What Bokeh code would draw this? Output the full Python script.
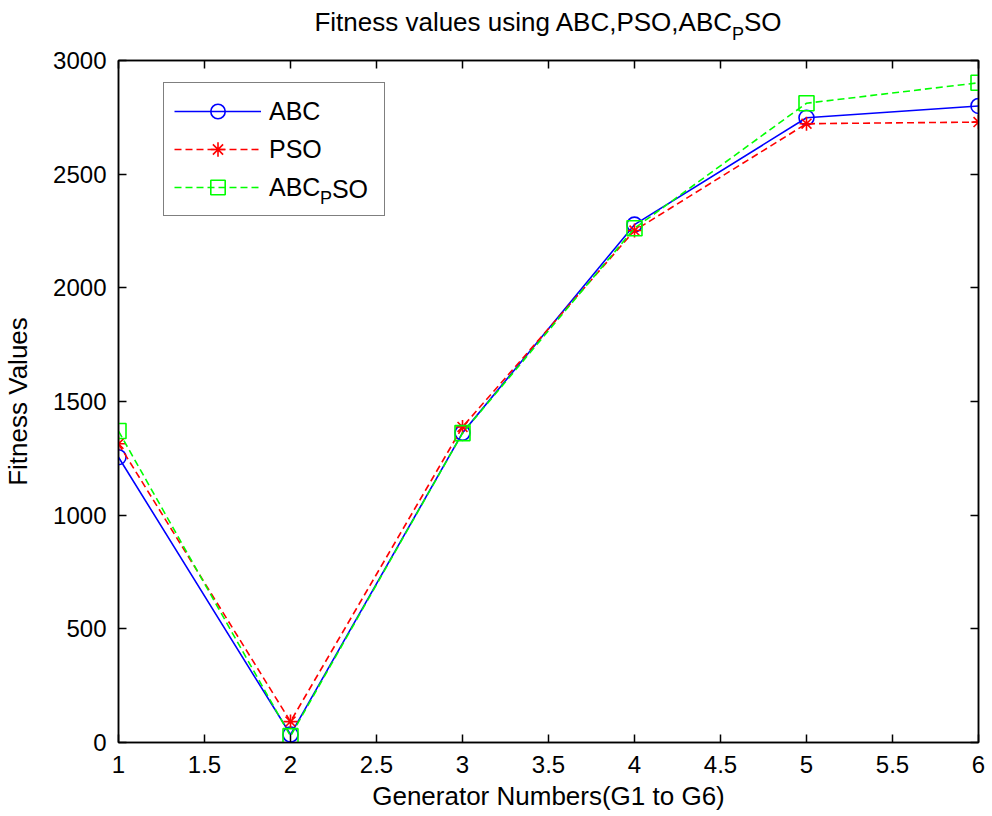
from bokeh.plotting import figure
from bokeh.models import (FixedTicker, LinearAxis, Legend, LegendItem, Label,
                          Range1d, CustomJSTickFormatter, Div)
from bokeh.layouts import column
from bokeh.embed import file_html
from bokeh.resources import INLINE

# ---------------- data ----------------
generators = [1, 2, 3, 4, 5, 6]
abc = [1255, 35, 1362, 2278, 2748, 2800]
pso = [1314, 92, 1388, 2252, 2722, 2729]
abc_pso = [1370, 28, 1361, 2262, 2812, 2902]

x_ticks = [1, 1.5, 2, 2.5, 3, 3.5, 4, 4.5, 5, 5.5, 6]
x_tick_labels = ["1", "1.5", "2", "2.5", "3", "3.5", "4", "4.5", "5", "5.5", "6"]
y_ticks = [0, 500, 1000, 1500, 2000, 2500, 3000]
y_tick_labels = ["0", "500", "1000", "1500", "2000", "2500", "3000"]

title_main = "Fitness values using ABC,PSO,ABC"
title_sub = "P"
title_tail = "SO"
x_label = "Generator Numbers(G1 to G6)"
y_label = "Fitness Values"
legend_names = ["ABC", "PSO", "ABC"]  # third one is ABC_P SO (subscript added below)
legend_sub = "P"
legend_tail = "SO"

x_lo, x_hi = 1, 6
y_lo, y_hi = 0, 3000

# ---------------- style ----------------
FONT = "Liberation Sans"
FS_TITLE = 26
FS_LABEL = 26
FS_TICK = 24
FS_LEG = 25
FS_SUB = 18
DASH = "7 4"

# Arial / Liberation Sans advance widths (per 1000 em)
W = {' ': 278, ',': 278, '(': 333, ')': 333, '0': 556, '1': 556, '6': 556,
     'A': 667, 'B': 667, 'C': 722, 'F': 611, 'G': 778, 'N': 722, 'O': 778,
     'P': 667, 'S': 667, 'V': 667, 'a': 556, 'b': 556, 'e': 556, 'g': 556,
     'i': 222, 'l': 222, 'm': 833, 'n': 556, 'o': 556, 'r': 333, 's': 500,
     't': 278, 'u': 556, 'v': 500}


def text_w(s, size):
    return sum(W.get(c, 556) for c in s) / 1000.0 * size


PAGE_W, PAGE_H = 992, 816
TITLE_H = 40
B_LEFT, B_RIGHT, B_TOP, B_BOTTOM = 118, 14, 20, 74
FIG_H = PAGE_H - TITLE_H

p = figure(width=PAGE_W, height=FIG_H, output_backend="svg", toolbar_location=None,
           x_range=Range1d(x_lo, x_hi), y_range=Range1d(y_lo, y_hi),
           min_border_left=B_LEFT, min_border_right=B_RIGHT, min_border_top=B_TOP,
           min_border_bottom=B_BOTTOM, x_axis_type=None, y_axis_type=None)
p.background_fill_color = "white"
p.border_fill_color = "white"
p.outline_line_color = "black"
p.outline_line_width = 1.5
p.xgrid.visible = False
p.ygrid.visible = False


def style_axis(ax, ticks, labels=None, show=True):
    ax.ticker = FixedTicker(ticks=ticks)
    ax.axis_line_color = "black"
    ax.axis_line_width = 1.5
    ax.major_tick_line_color = "black"
    ax.major_tick_line_width = 1.5
    ax.major_tick_in = 8
    ax.major_tick_out = 0
    ax.minor_tick_in = 0
    ax.minor_tick_out = 0
    ax.major_label_text_font = FONT
    ax.major_label_text_font_size = f"{FS_TICK}px"
    ax.major_label_text_color = "black"
    ax.axis_label_text_font = FONT
    ax.axis_label_text_font_size = f"{FS_LABEL}px"
    ax.axis_label_text_font_style = "normal"
    ax.axis_label_text_color = "black"
    if show:
        ax.major_label_overrides = {t: l for t, l in zip(ticks, labels)}
    else:
        ax.formatter = CustomJSTickFormatter(code="return ''")
        ax.major_label_standoff = 0


xb = LinearAxis(axis_label=x_label)
style_axis(xb, x_ticks, x_tick_labels)
xb.major_label_standoff = 13
xb.axis_label_standoff = 5
p.add_layout(xb, "below")

yl = LinearAxis(axis_label=y_label)
style_axis(yl, y_ticks, y_tick_labels)
yl.major_label_standoff = 12
yl.axis_label_standoff = 17
p.add_layout(yl, "left")

xt = LinearAxis()
style_axis(xt, x_ticks, show=False)
p.add_layout(xt, "above")
yr = LinearAxis()
style_axis(yr, y_ticks, show=False)
p.add_layout(yr, "right")

# ---------------- series ----------------
l1 = p.line(generators, abc, line_color="#0000ff", line_width=1.6)
m1 = p.scatter(generators, abc, marker="circle", size=15, line_color="#0000ff",
               fill_color=None, line_width=1.6)
l2 = p.line(generators, pso, line_color="#ff0000", line_width=1.6, line_dash=DASH)
m2 = p.scatter(generators, pso, marker="asterisk", size=14, line_color="#ff0000",
               line_width=1.6)
l3 = p.line(generators, abc_pso, line_color="#00ff00", line_width=1.6, line_dash=DASH)
m3 = p.scatter(generators, abc_pso, marker="square", size=15, line_color="#00ff00",
               fill_color=None, line_width=1.6)

# ---------------- legend ----------------
LEG_PAD = 10
LEG_GLYPH_H = 36
LEG_SPACING = 2
LEG_GLYPH_W = 87
LEG_STANDOFF = 8
LEG_LEFT = 45      # from frame left
LEG_TOP = 24       # from frame top
FRAME_H = FIG_H - B_TOP - B_BOTTOM
LEG_H = 2 * LEG_PAD + 3 * LEG_GLYPH_H + 2 * LEG_SPACING

legend = Legend(items=[LegendItem(label=legend_names[0], renderers=[l1, m1]),
                       LegendItem(label=legend_names[1], renderers=[l2, m2]),
                       LegendItem(label=legend_names[2], renderers=[l3, m3])],
                location=(LEG_LEFT, FRAME_H - LEG_TOP - LEG_H),
                padding=LEG_PAD, spacing=LEG_SPACING, margin=0,
                glyph_width=LEG_GLYPH_W, glyph_height=LEG_GLYPH_H,
                label_standoff=LEG_STANDOFF, label_width=105,
                label_text_font=FONT, label_text_font_size=f"{FS_LEG}px",
                label_text_color="black",
                border_line_color="black", border_line_width=1.5,
                background_fill_color="white", background_fill_alpha=0.0)
p.add_layout(legend)

# subscript part of the third legend label (screen units, relative to frame)
leg_text_x = LEG_LEFT + LEG_PAD + LEG_GLYPH_W + LEG_STANDOFF
row3_from_top = LEG_TOP + LEG_PAD + LEG_GLYPH_H * 2.5 + LEG_SPACING * 2
row3_y = FRAME_H - row3_from_top
sub_x = leg_text_x + text_w(legend_names[2], FS_LEG)
p.add_layout(Label(x=sub_x, y=row3_y - 9, x_units="screen", y_units="screen",
                   text=legend_sub, text_font=FONT, text_font_size=f"{FS_SUB}px",
                   text_align="left", text_baseline="middle", text_color="black",
                   level="overlay"))
p.add_layout(Label(x=sub_x + text_w(legend_sub, FS_SUB), y=row3_y,
                   x_units="screen", y_units="screen", text=legend_tail,
                   text_font=FONT, text_font_size=f"{FS_LEG}px", text_align="left",
                   text_baseline="middle", text_color="black", level="overlay"))

# ---------------- title (with subscript) above the plot ----------------
frame_w = PAGE_W - B_LEFT - B_RIGHT
title_html = (
    f'<div style="width:{frame_w}px; margin-left:{B_LEFT}px; text-align:center; '
    f'font-family:\'{FONT}\', Arial, sans-serif; font-size:{FS_TITLE}px; '
    f'line-height:30px; padding-top:7px; color:black; white-space:nowrap;">'
    f'{title_main}<span style="font-size:{FS_SUB}px; position:relative; top:9px;">'
    f'{title_sub}</span>{title_tail}</div>'
)
title_div = Div(text=title_html, width=PAGE_W, height=TITLE_H, margin=0)

layout = column(title_div, p, spacing=0)
open("out.html", "w").write(file_html(layout, INLINE))
